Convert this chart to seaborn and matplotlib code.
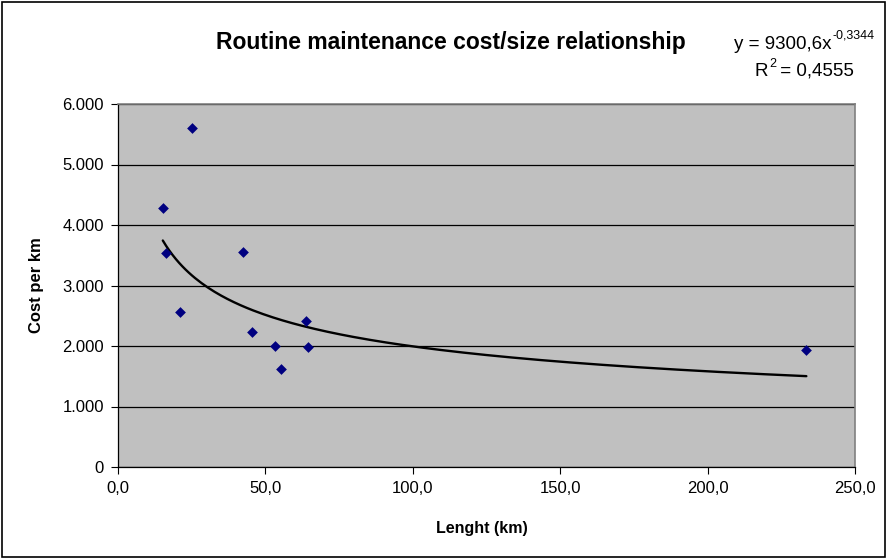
import numpy as np
import pandas as pd
import matplotlib as mpl
import matplotlib.pyplot as plt
import seaborn as sns
from matplotlib.ticker import FuncFormatter

# data
length_km = [25.0, 15.2, 16.3, 42.5, 21.1, 63.8, 45.6, 53.4, 64.3, 55.4, 233.5]
cost_per_km = [5600, 4276, 3532, 3549, 2562, 2418, 2226, 2005, 1983, 1620, 1929]
# power trendline shown on the chart: y = 9300,6 x^-0,3344
trend_a = 9300.6
trend_b = -0.3344

df = pd.DataFrame({'Lenght (km)': length_km, 'Cost per km': cost_per_km})
xs = np.linspace(min(length_km), max(length_km), 200)
trend = pd.DataFrame({'x': xs, 'y': trend_a * xs ** trend_b})

sns.set_style('white')
plt.rcParams['font.family'] = ['Liberation Sans', 'DejaVu Sans']
plt.rcParams['text.color'] = 'black'
plt.rcParams['axes.labelcolor'] = 'black'

W, H = 886, 558
fig = plt.figure(figsize=(W/100, H/100), dpi=100)
ax = fig.add_axes([118/W, 1-467/H, (855-118)/W, (467-104)/H])
ax.set_facecolor('#C0C0C0')

sns.lineplot(data=trend, x='x', y='y', color='black', linewidth=1.7, ax=ax, zorder=2)
sns.scatterplot(data=df, x='Lenght (km)', y='Cost per km', marker='D', s=30,
                color='#000080', edgecolor='#000080', linewidth=0, ax=ax, zorder=3)

ax.set_xlim(0, 250)
ax.set_ylim(0, 6000)
ax.set_xticks(np.arange(0, 251, 50))
ax.set_yticks(np.arange(0, 6001, 1000))
ax.xaxis.set_major_formatter(FuncFormatter(lambda v, p: f'{v:.1f}'.replace('.', ',')))
ax.yaxis.set_major_formatter(FuncFormatter(lambda v, p: f'{int(v):,}'.replace(',', '.')))
ax.yaxis.grid(True, color='black', linewidth=0.9)
ax.set_axisbelow(True)
ax.tick_params(axis='both', direction='out', length=5, width=0.8, colors='black',
               labelsize=12, bottom=True, left=True, pad=5)
for side in ['top', 'right']:
    ax.spines[side].set_color('#808080')
    ax.spines[side].set_linewidth(1.2)
for side in ['left', 'bottom']:
    ax.spines[side].set_color('black')
    ax.spines[side].set_linewidth(0.9)

ax.set_xlabel('Lenght (km)', fontsize=11.5, fontweight='bold')
ax.set_ylabel('Cost per km', fontsize=12, fontweight='bold')
ax.xaxis.set_label_coords((482-118)/737, (467-528)/363)
ax.xaxis.label.set_va('center')
ax.yaxis.set_label_coords((37-118)/737, 0.5)
ax.yaxis.label.set_va('center')

def px(x, y):
    return x/W, 1-y/H

fig.text(*px(451, 49.3), 'Routine maintenance cost/size relationship',
         ha='center', va='baseline', fontsize=16.5, fontweight='bold')
# trendline equation with superscripts
fig.text(*px(832, 49.3), 'y = 9300,6x', ha='right', va='baseline', fontsize=13.5)
fig.text(*px(832.5, 38.3), '-0,3344', ha='left', va='baseline', fontsize=9)
fig.text(*px(768.5, 75.7), 'R', ha='right', va='baseline', fontsize=13.5)
fig.text(*px(769, 67), '2', ha='left', va='baseline', fontsize=9)
fig.text(*px(775, 75.7), ' = 0,4555', ha='left', va='baseline', fontsize=13.5)

fig.patches.append(mpl.patches.Rectangle((1.5/W, 1.5/H), (W-3)/W, (H-3)/H,
                                         transform=fig.transFigure, fill=False,
                                         edgecolor='black', linewidth=1.2))

fig.savefig('out.png', dpi=100)
